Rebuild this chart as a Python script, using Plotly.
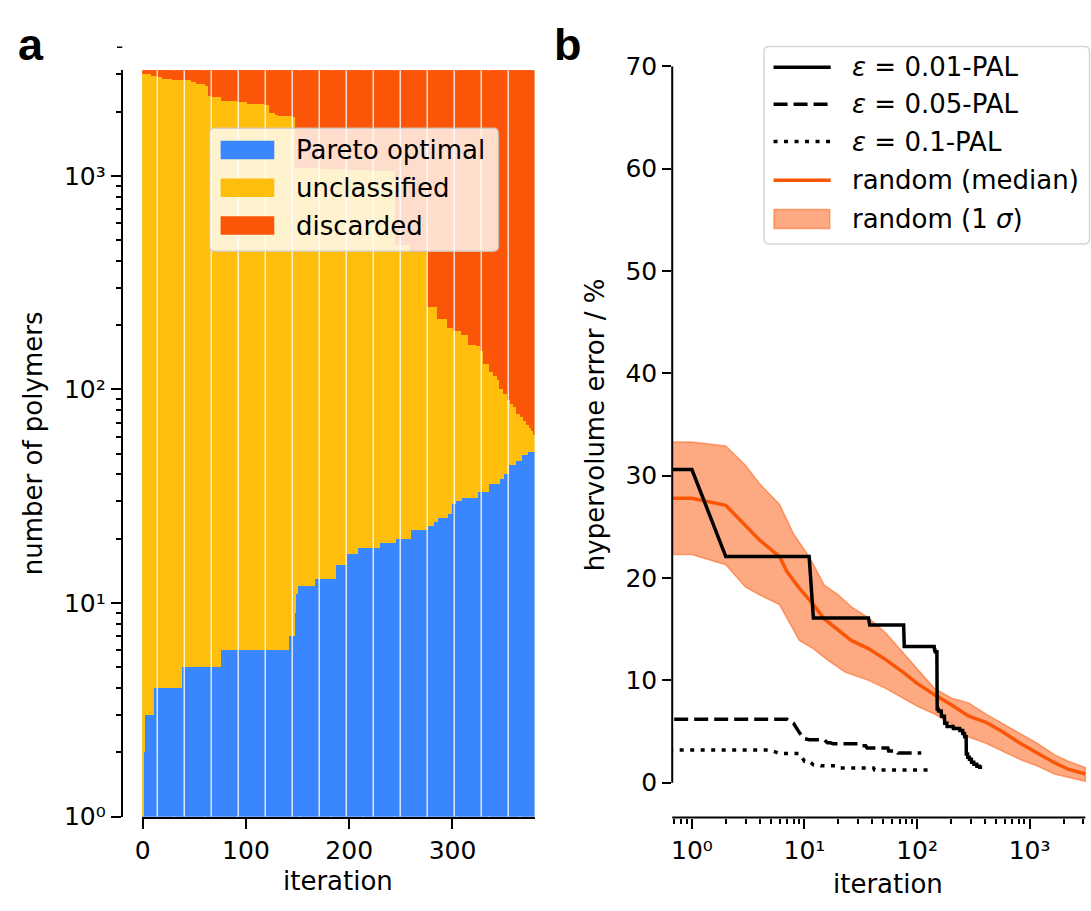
import numpy as np
import plotly.graph_objects as go

W, H = 1091, 911
FONT = "DejaVu Sans"

# ---------------- panel a: polymer classification per iteration ----------------
n_total = 3125
n_iter = 380
iterations = np.arange(n_iter)

# Pareto-optimal count: iteration where a new value starts, and the value
pareto_start = [0, 1, 2, 11, 38, 76, 142, 148, 149, 151, 167, 187, 198, 209, 230,
                245, 260, 276, 282, 286, 296, 300, 304, 309, 325, 336, 346, 350,
                355, 362, 367, 373]
pareto_count = [1, 2, 3, 4, 5, 6, 7, 9, 11, 12, 13, 15, 17, 18, 19,
                20, 22, 23, 24, 25, 26, 29, 30, 31, 33, 36, 38, 40,
                44, 46, 49, 51]

# Pareto optimal + unclassified (everything not yet discarded)
kept_start = [0, 9, 14, 20, 30, 48, 53, 61, 64, 67, 77, 92, 102, 119, 123, 129,
              132, 146, 149, 175, 200, 225, 245, 260, 276, 286, 296, 302, 309,
              316, 324, 328, 331, 336, 340, 344, 346, 350, 354, 357, 360, 363,
              366, 369, 372, 375, 377, 379]
kept_count = [2985, 2916, 2886, 2836, 2798, 2749, 2692, 2626, 2365, 2343, 2247,
              2217, 2155, 2133, 1968, 1920, 1900, 1876, 1090, 1075, 1065, 1050,
              476, 437, 243, 214, 193, 187, 180, 162, 160, 151, 132, 121, 115,
              110, 100, 95, 89, 85, 83, 77, 74, 71, 68, 66, 64, 61]


def step_series(starts, values, n):
    out = np.empty(n)
    for s, v in zip(starts, values):
        out[s:] = v
    return out


pareto = step_series(pareto_start, pareto_count, n_iter)
kept = step_series(kept_start, kept_count, n_iter)
unclassified = kept - pareto
discarded = n_total - kept

# ---------------- panel b: hypervolume error ----------------
eps001_start = [0, 2, 12, 38, 77, 143, 145, 151, 155, 165, 176, 185, 210, 240,
                255, 265, 274, 282, 292, 305, 320, 340, 360]
eps001_val = [30.6, 22.1, 16.1, 15.4, 13.3, 13.0, 12.8, 7.2, 7.0, 6.5, 5.8, 5.5,
              5.3, 5.1, 4.8, 4.5, 2.8, 2.5, 2.3, 2.0, 1.8, 1.6, 1.5]
eps001_last = 379

eps005_start = [0, 8, 9, 10, 11, 16, 18, 31, 36, 56, 68]
eps005_val = [6.2, 5.8, 4.9, 4.3, 4.2, 3.9, 3.8, 3.6, 3.4, 3.1, 2.9]
eps005_last = 109

eps01_start = [0, 6, 10, 12, 14, 20, 42]
eps01_val = [3.2, 2.85, 2.1, 1.75, 1.65, 1.45, 1.25]
eps01_last = 138

median_iter = [0, 1, 2, 3, 4, 6, 7, 9, 12, 15, 20, 26, 37, 53, 75, 100, 143,
               203, 288, 410, 580, 824, 1170, 1660, 2200, 3125]
median_val = [27.8, 27.8, 27.1, 25.1, 23.7, 22.1, 20.6, 19.0, 17.4, 16.0, 14.9,
              13.9, 13.1, 12.0, 10.8, 9.7, 8.6, 7.6, 6.5, 5.9, 4.95, 3.85, 2.9,
              1.96, 1.32, 0.85]

upper_iter = [0, 1, 2, 3, 4, 6, 8, 11, 15, 20, 26, 37, 53, 75, 100, 143, 203,
              288, 410, 580, 824, 1170, 1660, 2200, 3125]
upper_val = [33.3, 33.3, 32.9, 31.0, 29.2, 27.2, 24.3, 22.1, 19.3, 18.35, 17.2,
             16.1, 14.6, 12.7, 11.1, 9.2, 8.26, 7.8, 6.7, 5.74, 4.8, 3.85, 2.74,
             2.1, 1.48]

lower_iter = [0, 1, 2, 3, 4, 6, 7, 9, 12, 16, 23, 28, 37, 53, 75, 100, 143, 203,
              288, 410, 580, 824, 1170, 1660, 2200, 3125]
lower_val = [22.3, 22.3, 21.3, 19.1, 18.35, 17.4, 16.0, 13.9, 13.1, 12.0, 10.8,
             10.5, 10.0, 9.2, 8.26, 7.5, 6.7, 5.74, 4.47, 3.85, 3.06, 2.27, 1.64,
             0.85, 0.54, 0.13]

decade_ticks = [1, 10, 100, 1000]
decade_labels = ["10⁰", "10¹", "10²", "10³"]

BLUE, YELLOW, ORANGE = "#3a86ff", "#ffbe0b", "#fb5607"
BAND_FILL = "rgba(251,86,7,0.5)"


def on_log(x):
    # iteration 0 cannot sit on a log axis: clip it to a tiny positive value
    x = np.asarray(x, dtype=float)
    return np.where(x > 0, x, 1e-3)


def px_x(p):
    return p / W


def px_y(p):
    return 1 - p / H


fig = go.Figure()

for vals, col, name in [(pareto, BLUE, "Pareto optimal"),
                        (unclassified, YELLOW, "unclassified"),
                        (discarded, ORANGE, "discarded")]:
    fig.add_trace(go.Bar(x=iterations, y=vals, width=1, name=name,
                         marker=dict(color=col, line=dict(width=0)),
                         xaxis="x", yaxis="y", hoverinfo="skip"))

# 1-sigma band of random sampling
band_x = np.concatenate([on_log(upper_iter), on_log(lower_iter)[::-1]])
band_y = np.concatenate([upper_val, lower_val[::-1]])
fig.add_trace(go.Scatter(x=band_x, y=band_y, fill="toself", fillcolor=BAND_FILL,
                         mode="lines", line=dict(color=BAND_FILL, width=1.5),
                         name="random (1 σ)", xaxis="x2", yaxis="y2"))
fig.add_trace(go.Scatter(x=on_log(median_iter), y=median_val, mode="lines",
                         line=dict(color=ORANGE, width=3.5),
                         name="random (median)", xaxis="x2", yaxis="y2"))

pal_styles = [
    (eps001_start, eps001_val, eps001_last, "solid", "ε = 0.01-PAL"),
    (eps005_start, eps005_val, eps005_last, "14px,6px", "ε = 0.05-PAL"),
    (eps01_start, eps01_val, eps01_last, "4px,6.5px", "ε = 0.1-PAL"),
]
for starts, vals, last, dash, name in pal_styles:
    it = np.arange(last + 1)
    fig.add_trace(go.Scatter(x=on_log(it), y=step_series(starts, vals, last + 1),
                             mode="lines", name=name,
                             line=dict(color="black", width=3.5, dash=dash),
                             xaxis="x2", yaxis="y2"))

tickfont = dict(family=FONT, size=25, color="black")

# panel a axes
a_minor = [m * 10 ** e for e in range(0, 4) for m in range(2, 10) if m * 10 ** e < n_total]
fig.update_layout(
    xaxis=dict(domain=[px_x(136), px_x(531)], range=[-0.5, n_iter - 0.5], anchor="y",
               tickvals=[0, 100, 200, 300], ticks="outside", ticklen=10, tickwidth=2,
               tickcolor="black", showline=True, linewidth=2, linecolor="black",
               showgrid=False, zeroline=False, tickfont=tickfont),
    yaxis=dict(type="log", domain=[px_y(829), px_y(58)], range=[0, np.log10(n_total)],
               anchor="free", position=px_x(116),
               tickvals=decade_ticks, ticktext=decade_labels,
               ticks="outside", ticklen=10.5, tickwidth=2, tickcolor="black",
               minor=dict(tickvals=a_minor, ticks="outside", ticklen=5, tickwidth=1.5,
                          tickcolor="black", showgrid=False),
               showline=True, linewidth=2, linecolor="black", showgrid=False,
               zeroline=False, tickfont=tickfont),
)

# panel b axes
decade_px = 113.3
b_left = 669.5
b_lo = -0.175
b_hi = b_lo + (W - b_left) / decade_px
b_minor = [m * 10 ** e for e in range(-1, 4) for m in range(2, 10)]
fig.update_layout(
    xaxis2=dict(type="log", domain=[px_x(b_left), 1], range=[b_lo, b_hi], anchor="y2",
                tickvals=decade_ticks, ticktext=decade_labels,
                ticks="outside", ticklen=10, tickwidth=2, tickcolor="black",
                minor=dict(tickvals=b_minor, ticks="outside", ticklen=5, tickwidth=1.5,
                           tickcolor="black", showgrid=False),
                showline=False, showgrid=False, zeroline=False, tickfont=tickfont),
    yaxis2=dict(domain=[px_y(830), px_y(54)], range=[-3.406, 70], anchor="x2",
                tickvals=list(range(0, 71, 10)), ticks="outside", ticklen=9, tickwidth=2,
                tickcolor="black", showline=False, showgrid=False, zeroline=False,
                tickfont=tickfont),
)

shapes = []
# thin white hairlines crossing the stacked bars
for k in range(14):
    xs = 14.1 + 26.14 * k
    shapes.append(dict(type="line", xref="x", yref="y domain", x0=xs, x1=xs, y0=0, y1=1,
                       line=dict(color="white", width=1.2)))
# trimmed spines of panel b
x_end_frac = (np.log10(n_total) - b_lo) / (b_hi - b_lo)
shapes.append(dict(type="line", xref="x2 domain", yref="y2", x0=0, x1=0, y0=0, y1=70,
                   line=dict(color="black", width=2)))
shapes.append(dict(type="line", xref="x2 domain", yref="y2 domain", x0=0, x1=x_end_frac,
                   y0=0, y1=0, line=dict(color="black", width=2)))
# minor tick at 4000 sits just above the clipped left spine of panel a
t4000 = np.log10(4000) / np.log10(n_total)
shapes.append(dict(type="line", xref="paper", yref="y domain", x0=px_x(110.7), x1=px_x(116),
                   y0=t4000, y1=t4000, line=dict(color="black", width=1.5)))


def rounded_box(x0, y0, x1, y1, r=5):
    X = lambda v: f"{px_x(v):.6f}"
    Y = lambda v: f"{px_y(v):.6f}"
    return (f"M{X(x0 + r)},{Y(y0)} L{X(x1 - r)},{Y(y0)} Q{X(x1)},{Y(y0)} {X(x1)},{Y(y0 + r)} "
            f"L{X(x1)},{Y(y1 - r)} Q{X(x1)},{Y(y1)} {X(x1 - r)},{Y(y1)} "
            f"L{X(x0 + r)},{Y(y1)} Q{X(x0)},{Y(y1)} {X(x0)},{Y(y1 - r)} "
            f"L{X(x0)},{Y(y0 + r)} Q{X(x0)},{Y(y0)} {X(x0 + r)},{Y(y0)} Z")


annotations = []
legend_font = dict(family=FONT, size=26, color="black")

# legend of panel a
shapes.append(dict(type="path", xref="paper", yref="paper", path=rounded_box(204, 118, 494.5, 245),
                   fillcolor="rgba(255,255,255,0.8)", line=dict(color="rgba(204,204,204,0.8)", width=1.5)))
for yc, col, name in [(140.5, BLUE, "Pareto optimal"), (179.5, YELLOW, "unclassified"),
                      (218.5, ORANGE, "discarded")]:
    shapes.append(dict(type="rect", xref="paper", yref="paper", x0=px_x(215), x1=px_x(269),
                       y0=px_y(yc - 9.5), y1=px_y(yc + 9.5), fillcolor=col, line=dict(width=0)))
    annotations.append(dict(text=name, x=px_x(289), y=px_y(yc), xref="paper", yref="paper",
                            xanchor="left", yanchor="middle", showarrow=False, font=legend_font))

# legend of panel b
shapes.append(dict(type="path", xref="paper", yref="paper", path=rounded_box(762, 33.5, 1089.5, 237.5),
                   fillcolor="rgba(255,255,255,0.8)", line=dict(color="rgba(204,204,204,0.8)", width=1.5)))
legend_b = [(55, "<i>ε</i> = 0.01-PAL", "black", "solid"),
            (93.3, "<i>ε</i> = 0.05-PAL", "black", "14px,6px"),
            (131.7, "<i>ε</i> = 0.1-PAL", "black", "4px,6.5px"),
            (171.7, "random (median)", ORANGE, "solid")]
for yc, text, col, dash in legend_b:
    shapes.append(dict(type="line", xref="paper", yref="paper", x0=px_x(771.5), x1=px_x(829),
                       y0=px_y(yc), y1=px_y(yc), line=dict(color=col, width=3.5, dash=dash)))
    annotations.append(dict(text=text, x=px_x(848), y=px_y(yc), xref="paper", yref="paper",
                            xanchor="left", yanchor="middle", showarrow=False, font=legend_font))
shapes.append(dict(type="rect", xref="paper", yref="paper", x0=px_x(772), x1=px_x(828),
                   y0=px_y(202), y1=px_y(221.5), fillcolor=BAND_FILL,
                   line=dict(color=BAND_FILL, width=1.5)))
annotations.append(dict(text="random (1 <i>σ</i>)", x=px_x(848), y=px_y(211.7), xref="paper",
                        yref="paper", xanchor="left", yanchor="middle", showarrow=False,
                        font=legend_font))

# axis titles
title_font = dict(family=FONT, size=26, color="black")
annotations += [
    dict(text="number of polymers", x=px_x(27), y=px_y(443.5), textangle=-90),
    dict(text="iteration", x=px_x(333.5), y=px_y(896)),
    dict(text="hypervolume error / %", x=px_x(592), y=px_y(424.5), textangle=-90),
    dict(text="iteration", x=px_x(887), y=px_y(899)),
]
for ann in annotations[-4:]:
    ann.update(xref="paper", yref="paper", xanchor="center", yanchor="middle",
               showarrow=False, font=title_font)

# panel letters
for letter, xl in [("a", 9), ("b", 549)]:
    annotations.append(dict(text=f"<b>{letter}</b>", x=px_x(xl), y=px_y(31), xref="paper",
                            yref="paper", xanchor="left", yanchor="middle", showarrow=False,
                            font=dict(family="Liberation Sans", size=45, color="black")))

fig.update_layout(
    width=W, height=H, margin=dict(l=0, r=0, t=0, b=0),
    paper_bgcolor="white", plot_bgcolor="white",
    barmode="stack", bargap=0, showlegend=False,
    shapes=shapes, annotations=annotations,
)

fig.write_html("out.html")
